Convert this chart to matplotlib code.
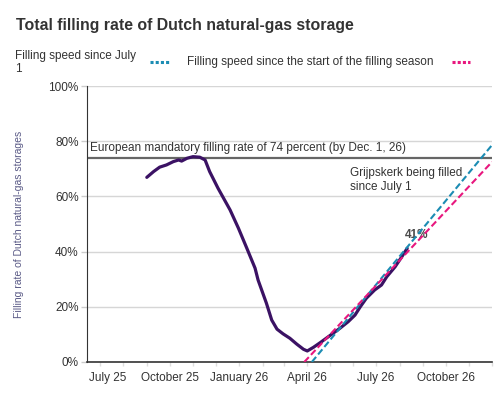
import matplotlib
matplotlib.use("Agg")
import matplotlib.pyplot as plt
import matplotlib.dates as mdates
import matplotlib.transforms as mtransforms
from matplotlib.lines import Line2D
import numpy as np

plt.rcParams['font.family'] = ['Liberation Sans', 'DejaVu Sans']

# ---- data ----
dates = ["2025-09-01", "2025-09-10", "2025-09-18", "2025-09-27", "2025-10-06", "2025-10-13",
         "2025-10-17", "2025-10-24", "2025-11-01", "2025-11-10", "2025-11-17", "2025-11-23",
         "2025-12-04", "2025-12-20", "2025-12-31", "2026-01-11", "2026-01-22", "2026-01-26",
         "2026-02-06", "2026-02-13", "2026-02-20", "2026-02-28", "2026-03-09", "2026-03-18",
         "2026-03-27", "2026-04-01", "2026-04-09", "2026-04-18", "2026-04-27", "2026-05-05",
         "2026-05-14", "2026-05-25", "2026-06-03", "2026-06-10", "2026-06-18", "2026-06-29",
         "2026-07-08", "2026-07-15", "2026-07-26", "2026-08-04", "2026-08-11"]
fill_rate = [66.9, 69.0, 70.6, 71.4, 72.6, 73.2,
             72.8, 73.8, 74.4, 74.2, 73.2, 69.0,
             63.0, 55.1, 48.5, 41.3, 34.0, 29.7,
             21.3, 15.2, 11.9, 10.2, 8.6, 6.5,
             4.6, 4.0, 5.3, 7.0, 8.8, 10.4,
             12.2, 14.6, 17.0, 20.0, 23.1, 26.1,
             27.9, 30.9, 34.5, 38.2, 41.2]

speed_july_dates = ["2026-04-07", "2026-12-01"]
speed_july_vals = [0.0, 78.6]
speed_season_dates = ["2026-03-28", "2026-12-01"]
speed_season_vals = [0.0, 72.5]

mandatory_rate = 74
current_label = "41%"
current_label_pos = ("2026-08-23", 46)

tick_dates = ["2025-07-01", "2025-10-01", "2026-01-01", "2026-04-01", "2026-07-01", "2026-10-01"]
tick_labels = ["July 25", "October 25", "January 26", "April 26", "July 26", "October 26"]
y_ticks = [0, 20, 40, 60, 80, 100]
y_tick_labels = ["0%", "20%", "40%", "60%", "80%", "100%"]

# ---- styling ----
PURPLE = "#3b1264"
BLUE = "#1b8cb3"
PINK = "#e8177e"
DARK = "#333333"
FS = 8.5

to_dt = lambda lst: np.array(lst, dtype="datetime64[D]")

fig = plt.figure(figsize=(5, 4), dpi=100)
ax = fig.add_axes([87/500, 38/400, 405/500, 276/400])

ax.set_xlim(np.datetime64("2025-06-14"), np.datetime64("2026-12-01"))
ax.set_ylim(0, 100)

ax.grid(axis='y', color='#d6d6d6', linewidth=1, zorder=0)
ax.set_axisbelow(True)

ax.axhline(mandatory_rate, color='#666666', linewidth=1.6, zorder=2)
ax.text(np.datetime64("2025-06-18"), 76.4,
        "European mandatory filling rate of 74 percent (by Dec. 1, 26)",
        fontsize=FS, color=DARK, va='baseline', ha='left', zorder=3)
ax.text(np.datetime64("2026-05-28"), 70.5, "Grijpskerk being filled\nsince July 1",
        fontsize=FS, color=DARK, va='top', ha='left', linespacing=1.15, zorder=3)
ax.text(np.datetime64(current_label_pos[0]), current_label_pos[1], current_label,
        fontsize=FS, fontweight='bold', color='#4a4a4a', va='center', ha='center', zorder=1)

ax.plot(to_dt(dates), fill_rate, color=PURPLE, linewidth=2.3, zorder=4,
        solid_capstyle='round', solid_joinstyle='round')
ax.plot(to_dt(speed_july_dates), speed_july_vals, color=BLUE, linewidth=1.5,
        linestyle=(0, (3.2, 1.5)), zorder=5)
ax.plot(to_dt(speed_season_dates), speed_season_vals, color=PINK, linewidth=1.5,
        linestyle=(0, (3.2, 1.5)), zorder=5)

# axes styling
for s in ['top', 'right']:
    ax.spines[s].set_visible(False)
ax.spines['left'].set_color(DARK)
ax.spines['bottom'].set_color(DARK)
ax.spines['bottom'].set_linewidth(1.2)

ax.set_yticks(y_ticks)
ax.set_yticklabels(y_tick_labels)
ax.tick_params(axis='y', length=4, width=1, color='#cccccc', pad=2, labelsize=FS, labelcolor=DARK)

ax.set_xticks(to_dt(tick_dates))
ax.set_xticklabels(tick_labels)
ax.xaxis.set_minor_locator(mdates.MonthLocator())
ax.tick_params(axis='x', which='major', length=3, width=1, color='#dddddd', pad=4,
               labelsize=FS, labelcolor=DARK)
ax.tick_params(axis='x', which='minor', length=3, width=1, color='#dddddd')

first = ax.get_xticklabels()[0]
first.set_horizontalalignment('left')
first.set_transform(first.get_transform() +
                    mtransforms.ScaledTranslation(-11/100, 0, fig.dpi_scale_trans))

ax.set_ylabel("Filling rate of Dutch natural-gas storages", fontsize=7.5, color='#5a5a86')
ax.yaxis.set_label_coords(-0.156, 0.5)

# title
fig.text(16/500, 1 - 30/400, "Total filling rate of Dutch natural-gas storage",
         fontsize=11.4, fontweight='bold', color=DARK, va='baseline', ha='left')

# legend (manual)
fig.text(15/500, 1 - 50/400, "Filling speed since July\n1", fontsize=FS, color=DARK,
         va='top', ha='left', linespacing=1.1)
fig.add_artist(Line2D([150/500, 169/500], [1 - 62/400, 1 - 62/400], color=BLUE,
                      linewidth=2.2, linestyle=(0, (1, 0.7)), dash_capstyle='butt'))
fig.text(187/500, 1 - 62/400, "Filling speed since the start of the filling season",
         fontsize=FS, color=DARK, va='center', ha='left')
fig.add_artist(Line2D([452/500, 470/500], [1 - 62/400, 1 - 62/400], color=PINK,
                      linewidth=2.2, linestyle=(0, (1, 0.7)), dash_capstyle='butt'))

fig.savefig("out.png", dpi=100)
